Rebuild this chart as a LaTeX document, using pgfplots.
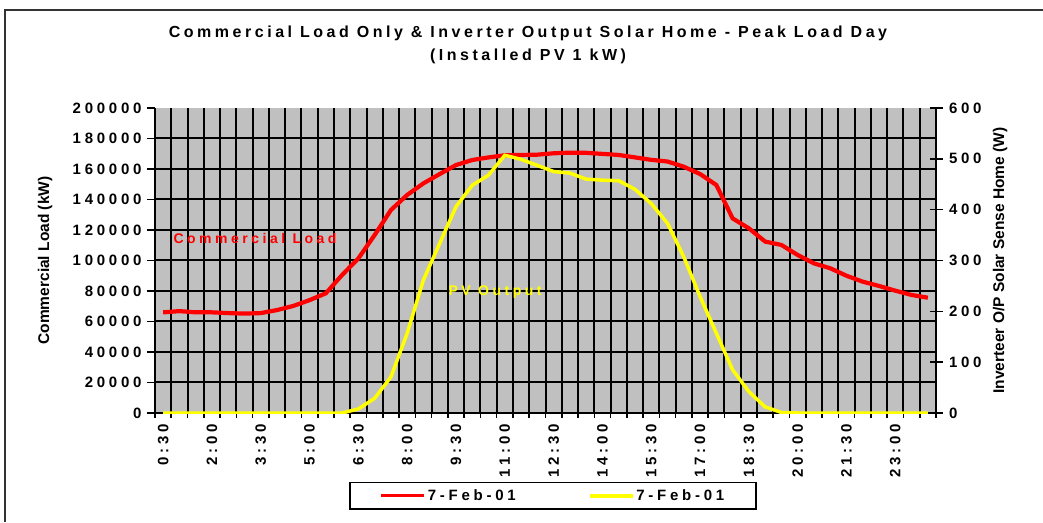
\documentclass[border=0pt]{standalone}
\usepackage{fontspec}
\setmainfont{Liberation Sans}
\newfontfamily\spc[LetterSpace=22]{Liberation Sans}
\newfontfamily\spt[LetterSpace=25]{Liberation Sans}
\usepackage{pgfplots}
\pgfplotsset{compat=1.18}
\definecolor{plotgray}{RGB}{192,192,192}
\definecolor{pvyellow}{RGB}{255,255,0}
\definecolor{loadred}{RGB}{255,0,0}
\newcommand\ttl{\spc\bfseries\fontsize{16}{18}\selectfont}
\newcommand\lab{\spt\bfseries\fontsize{15}{16}\selectfont}
\newcommand\inlab{\spt\bfseries\fontsize{14}{16}\selectfont}
\newcommand\axlab{\bfseries\fontsize{15.5}{16}\selectfont}

\pgfplotstableread{
i load
0 66000
1 66800
2 66000
3 66000
4 65500
5 65200
6 65500
7 67500
8 70200
9 74000
10 78500
11 90500
12 101400
13 116700
14 133100
15 143000
16 150600
17 156700
18 162600
19 165900
20 167600
21 169000
22 169200
23 169400
24 170300
25 170700
26 170600
27 169900
28 169200
29 167600
30 166000
31 164900
32 161500
33 156700
34 149500
35 127600
36 121100
37 112400
38 110200
39 103600
40 98100
41 94900
42 90000
43 86100
44 83300
45 80200
46 77400
47 75600
}\loadtable

\pgfplotstableread{
i pv
0 0
1 0
2 0
3 0
4 0
5 0
6 0
7 0
8 0
9 0
10 0
11 0
12 8
13 29
14 71
15 157
16 262
17 334
18 406
19 448
20 468
21 507
22 499
23 487
24 475
25 472
26 460
27 458
28 457
29 440
30 412
31 373
32 307
33 229
34 157
35 85
36 42
37 12
38 1
39 0
40 0
41 0
42 0
43 0
44 0
45 0
46 0
47 0
}\pvtable

\begin{document}
\begin{tikzpicture}[x=1pt,y=1pt]
\useasboundingbox (0,0) rectangle (1043,522);
\draw[line width=2pt, black!80] (4.5,0) -- (4.5,511.5) -- (1043,511.5);
\node[font=\ttl] at (528,488.5) {Commercial Load Only \& Inverter Output Solar Home - Peak Load Day};
\node[font=\ttl] at (528,466) {(Installed PV 1 kW)};

\begin{axis}[
  at={(155pt,109pt)}, anchor=south west,
  scale only axis, width=781pt, height=305pt,
  xmin=-0.5, xmax=47.5, ymin=0, ymax=200000,
  axis x line*=bottom, axis y line*=left,
  axis line style={black, line width=2pt},
  axis background/.style={fill=plotgray},
  xtick={0,3,...,45},
  xticklabels={0:30,2:00,3:30,5:00,6:30,8:00,9:30,11:00,12:30,14:00,15:30,17:00,18:30,20:00,21:30,23:00},
  minor xtick={-0.5,0.5,...,47.5},
  xminorgrids=true,
  ytick={0,20000,...,180000},
  extra y ticks={200000},
  extra y tick style={grid=none},
  ymajorgrids=true,
  grid style={black, line width=2pt},
  minor grid style={black, line width=2pt},
  major grid style={black, line width=2pt},
  tick align=outside,
  major x tick style={draw=none},
  minor x tick style={black, line width=1.6pt},
  minor tick length=5pt,
  major tick length=8pt,
  y tick style={black, line width=1.6pt},
  scaled y ticks=false,
  /pgf/number format/.cd, fixed, 1000 sep={}, assume math mode=true,
  /pgfplots/.cd,
  yticklabel style={font=\lab, xshift=-2pt},
  xticklabel style={font=\lab, rotate=90, anchor=east},
  ylabel={Commercial Load (kW)},
  ylabel style={font=\axlab, at={(axis description cs:-0.1408,0.5)}, anchor=center, rotate=0},
  clip=true,
]
\addplot[loadred, line width=4.2pt] table[x=i, y=load] {\loadtable};
\node[font=\inlab, text=loadred] at (axis cs:5.65,114750) {Commercial Load};
\node[font=\inlab, text=pvyellow] at (axis cs:20.4,79000) {PV Output};
\end{axis}

\begin{axis}[
  at={(155pt,109pt)}, anchor=south west,
  scale only axis, width=781pt, height=305pt,
  xmin=-0.5, xmax=47.5, ymin=0, ymax=600,
  axis x line=none, axis y line*=right,
  axis line style={black, line width=2pt},
  ytick={0,100,...,600},
  tick align=center,
  major tick length=13pt,
  y tick style={black, line width=1.6pt},
  yticklabel style={font=\lab, xshift=3pt},
  /pgf/number format/assume math mode=true,
  ylabel={Inverteer O/P Solar Sense Home (W)},
  ylabel style={font=\axlab, at={(axis description cs:1.082,0.5)}, anchor=center, rotate=0},
  legend style={at={(axis description cs:0.5096,-0.272)}, anchor=center, legend columns=2,
    draw=black, line width=1.4pt, font=\lab, inner xsep=30pt, inner ysep=5pt,
    /tikz/every even column/.append style={column sep=70pt}},
  legend image code/.code={\draw[#1] (0pt,0pt) -- (43pt,0pt);},
]
\addlegendimage{loadred, line width=3pt}
\addlegendentry{7-Feb-01}
\addplot[pvyellow, line width=3.5pt] table[x=i, y=pv] {\pvtable};
\addlegendentry{7-Feb-01}
\end{axis}
\end{tikzpicture}
\end{document}
